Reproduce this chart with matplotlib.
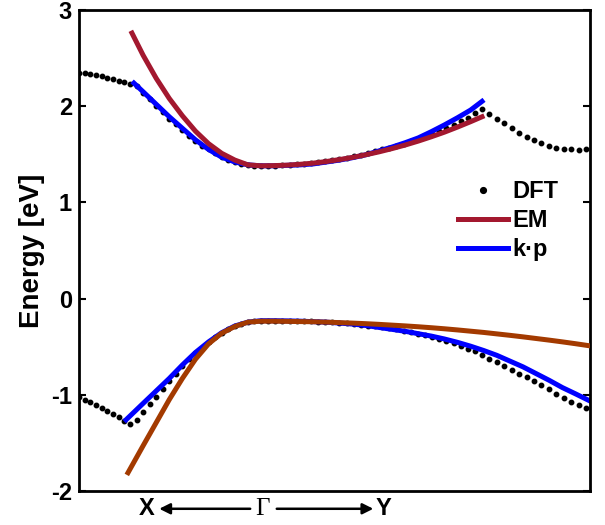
import numpy as np
import matplotlib
matplotlib.use("Agg")
import matplotlib.pyplot as plt

plt.rcParams['font.family'] = ['Liberation Sans', 'DejaVu Sans']
plt.rcParams['font.weight'] = 'bold'
plt.rcParams['axes.unicode_minus'] = False

# k-path: X = -1, Gamma = 0, Y = 1.687 (arbitrary units)
k_left, k_X, k_G, k_Y, k_right = -1.389, -1.0, 0.0, 1.687, 2.48

# DFT bands, per path segment
dft_cb_a = [2.35, 2.34, 2.33, 2.32, 2.31, 2.29, 2.28, 2.26, 2.25, 2.23]
dft_vb_a = [-1.02, -1.05, -1.08, -1.11, -1.14, -1.17, -1.20, -1.23, -1.27, -1.30]
dft_cb_b = [2.21, 2.14, 2.07, 2.00, 1.94, 1.87, 1.81, 1.75, 1.69, 1.64,
            1.59, 1.55, 1.51, 1.47, 1.44, 1.42, 1.40, 1.39, 1.38, 1.38]
dft_vb_b = [-1.26, -1.18, -1.10, -1.02, -0.94, -0.86, -0.78, -0.70, -0.63, -0.57,
            -0.51, -0.45, -0.40, -0.355, -0.315, -0.28, -0.26, -0.24, -0.235, -0.23]
dft_cb_c = [1.38, 1.38, 1.385, 1.39, 1.395, 1.40, 1.41, 1.42, 1.43, 1.44,
            1.45, 1.465, 1.48, 1.495, 1.51, 1.53, 1.55, 1.57, 1.59, 1.61,
            1.635, 1.66, 1.685, 1.71, 1.74, 1.77, 1.80, 1.845, 1.88, 1.925, 1.97]
dft_vb_c = [-0.23, -0.23, -0.23, -0.23, -0.23, -0.235, -0.235, -0.24, -0.24, -0.245,
            -0.25, -0.255, -0.26, -0.27, -0.28, -0.29, -0.30, -0.31, -0.32, -0.335,
            -0.35, -0.365, -0.38, -0.40, -0.42, -0.44, -0.465, -0.49, -0.52, -0.55, -0.59]
dft_cb_d = [1.92, 1.87, 1.82, 1.77, 1.72, 1.68, 1.645, 1.615, 1.59, 1.57,
            1.56, 1.55, 1.545, 1.55]
dft_vb_d = [-0.625, -0.66, -0.70, -0.74, -0.78, -0.82, -0.86, -0.90, -0.945, -0.99,
            -1.03, -1.07, -1.105, -1.135]

# model curves sampled on the k-path
k_left_model = [-0.9, -0.8, -0.7, -0.6, -0.5, -0.4, -0.3, -0.2, -0.1, 0.0]
k_right_model = [0.1, 0.2, 0.3, 0.4, 0.5, 0.6, 0.7, 0.8, 0.9, 1.0,
                 1.1, 1.2, 1.3, 1.4, 1.5, 1.6]
k_far_model = [1.7, 1.8, 1.9, 2.0, 2.1, 2.2, 2.3, 2.4, 2.504]

kp_cb = [2.24, 2.15, 2.02, 1.89, 1.77, 1.65, 1.55, 1.47, 1.42, 1.39, 1.38,
         1.38, 1.385, 1.39, 1.40, 1.42, 1.44, 1.465, 1.495, 1.535, 1.575,
         1.62, 1.67, 1.735, 1.805, 1.88, 1.96, 2.05]
em_cb = [2.76, 2.53, 2.29, 2.08, 1.90, 1.74, 1.61, 1.51, 1.44, 1.39, 1.38,
         1.382, 1.387, 1.396, 1.408, 1.425, 1.445, 1.468, 1.495, 1.525, 1.559,
         1.596, 1.637, 1.682, 1.73, 1.783, 1.839, 1.89]
kp_vb = [-1.26, -1.09, -0.96, -0.83, -0.69, -0.56, -0.45, -0.355, -0.285, -0.245, -0.23,
         -0.23, -0.232, -0.235, -0.24, -0.245, -0.255, -0.265, -0.28, -0.30, -0.32,
         -0.34, -0.365, -0.39, -0.42, -0.455, -0.495,
         -0.54, -0.59, -0.65, -0.71, -0.78, -0.85, -0.925, -0.99, -1.06]
em_vb = [-1.81, -1.53, -1.29, -1.05, -0.83, -0.63, -0.47, -0.36, -0.29, -0.245, -0.235,
         -0.235, -0.237, -0.239, -0.241, -0.245, -0.25, -0.255, -0.261, -0.268, -0.276,
         -0.284, -0.293, -0.303, -0.314, -0.326, -0.339,
         -0.352, -0.367, -0.382, -0.398, -0.415, -0.432, -0.45, -0.469, -0.49]

# DFT k positions
ka = np.linspace(k_left, k_X, len(dft_cb_a))
kb = np.linspace(k_X, k_G, len(dft_cb_b) + 1)[1:]
kc = np.linspace(k_G, k_Y, len(dft_cb_c) + 1)[1:]
kd = np.linspace(k_Y, k_right, len(dft_cb_d) + 1)[1:]
k_dft = np.concatenate([ka, kb, kc, kd])
cb_dft = np.concatenate([dft_cb_a, dft_cb_b, dft_cb_c, dft_cb_d])
vb_dft = np.concatenate([dft_vb_a, dft_vb_b, dft_vb_c, dft_vb_d])

k_cb_kp = [-0.97] + k_left_model + k_right_model + [k_Y]
k_cb_em = [-0.985] + k_left_model + k_right_model + [k_Y]
k_vb_kp = [-1.03] + k_left_model + k_right_model + k_far_model
k_vb_em = [-1.015] + k_left_model + k_right_model + k_far_model

fig = plt.figure(figsize=(6.05, 5.25), dpi=100)
ax = fig.add_axes([0.1306, 0.0648, 0.8446, 0.9162])

red = '#A3182F'
orange = '#A33A00'
blue = '#0000FF'

ax.plot(k_dft, cb_dft, 'o', color='k', ms=3.2, label='DFT', zorder=1)
ax.plot(k_dft, vb_dft, 'o', color='k', ms=3.2, zorder=1)
ax.plot(k_cb_kp, kp_cb, color=blue, lw=3.6, zorder=2)
ax.plot(k_vb_kp, kp_vb, color=blue, lw=3.6, zorder=2)
ax.plot(k_cb_em, em_cb, color=red, lw=3.6, label='EM', zorder=3)
ax.plot(k_vb_em, em_vb, color=orange, lw=3.6, zorder=3)
ax.plot([], [], color=blue, lw=3.6, label='k·p')

ax.set_xlim(k_left, 2.511)
ax.set_ylim(-2, 3)
ax.set_yticks([-2, -1, 0, 1, 2, 3])
ax.set_xticks([])
ax.tick_params(axis='y', direction='in', length=5, width=1.5, right=True,
               labelsize=17, pad=5)
for lbl in ax.get_yticklabels():
    lbl.set_fontweight('bold')
for s in ax.spines.values():
    s.set_linewidth(2)
ax.set_ylabel('Energy [eV]', fontsize=20, fontweight='bold', labelpad=4)

leg = ax.legend(loc='upper left', bbox_to_anchor=(0.7, 0.69), frameon=False,
                fontsize=17, handlelength=2.1, handletextpad=0.2,
                labelspacing=0.25, markerscale=1.3)
for t in leg.get_texts():
    t.set_fontweight('bold')

# schematic path labels under the axis
tr = ax.transAxes
ax.text(0.133, -0.037, 'X', transform=tr, ha='center', va='center',
        fontsize=17, fontweight='bold')
ax.text(0.36, -0.037, 'Γ', transform=tr, ha='center', va='center',
        fontsize=18, family=['Liberation Serif', 'DejaVu Serif'], fontweight='normal')
ax.text(0.595, -0.037, 'Y', transform=tr, ha='center', va='center',
        fontsize=17, fontweight='bold')
arrow = dict(arrowstyle='-|>', color='k', lw=1.8, mutation_scale=16,
             shrinkA=0, shrinkB=0)
ax.annotate('', xy=(0.157, -0.037), xytext=(0.335, -0.037), xycoords=tr,
            textcoords=tr, arrowprops=arrow, annotation_clip=False)
ax.annotate('', xy=(0.576, -0.037), xytext=(0.387, -0.037), xycoords=tr,
            textcoords=tr, arrowprops=arrow, annotation_clip=False)

fig.savefig('out.png', dpi=100)
